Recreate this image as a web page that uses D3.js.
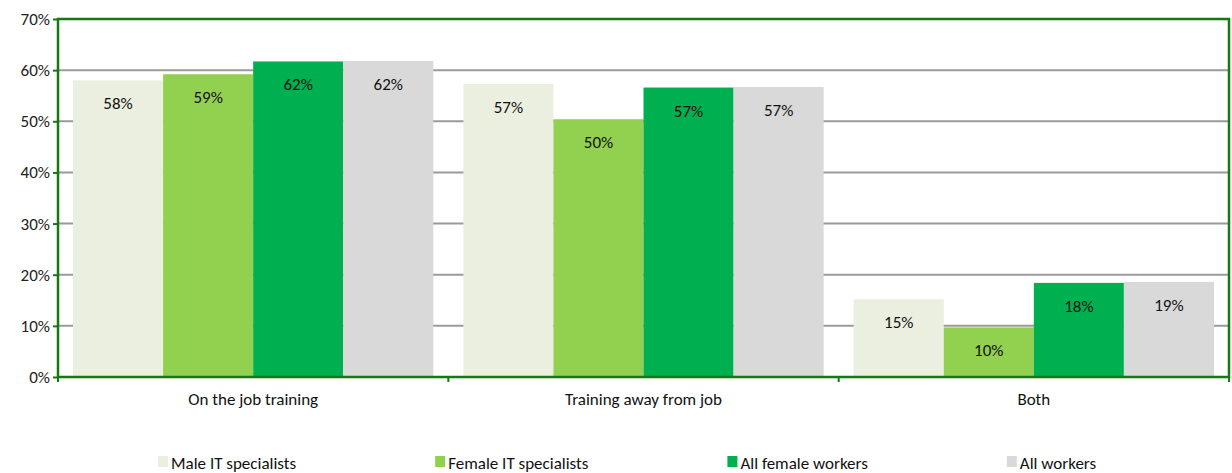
<!DOCTYPE html>
<html>
<head>
<meta charset="utf-8">
<script src="https://cdn.jsdelivr.net/npm/d3@7"></script>
<style>
  body { margin: 0; background: #fff; }
  svg { display: block; font-family: Carlito, "Liberation Sans", "Open Sans", sans-serif; }
</style>
</head>
<body>
<div id="chart"></div>
<script>
const categories = ["On the job training", "Training away from job", "Both"];
const seriesNames = ["Male IT specialists", "Female IT specialists", "All female workers", "All workers"];
const seriesColors = ["#ebefdf", "#92d050", "#00b050", "#d9d9d9"];
const maleIT = [0.58, 0.573, 0.152];
const femaleIT = [0.592, 0.504, 0.097];
const allFemale = [0.617, 0.566, 0.184];
const allWorkers = [0.618, 0.567, 0.186];
const yTicks = [0, 0.1, 0.2, 0.3, 0.4, 0.5, 0.6, 0.7];

const seriesValues = [maleIT, femaleIT, allFemale, allWorkers];

const width = 1232, height = 473;
const margin = { top: 19, right: 3, bottom: 96, left: 58 };
const innerW = width - margin.left - margin.right;
const innerH = height - margin.top - margin.bottom;
const frameColor = "#137a13";
const fontFam = 'Carlito, "Liberation Sans", sans-serif';

const svg = d3.select("#chart").append("svg")
  .attr("width", width)
  .attr("height", height);

const g = svg.append("g").attr("transform", `translate(${margin.left},${margin.top})`);

const x0 = d3.scaleBand().domain(categories).range([0, innerW]).paddingInner(0).paddingOuter(0);
const x1 = d3.scaleBand().domain(seriesNames)
  .range([x0.bandwidth() * 0.0385, x0.bandwidth() * 0.9615]).padding(0);
const y = d3.scaleLinear().domain([0, 0.7]).range([innerH, 0]);

// gridlines
g.append("g")
  .selectAll("line")
  .data(yTicks.filter(t => t > 0 && t < 0.7))
  .join("line")
  .attr("x1", 0).attr("x2", innerW)
  .attr("y1", d => y(d)).attr("y2", d => y(d))
  .attr("stroke", "#9a9a9a").attr("stroke-width", 2);

// bars
const groups = g.append("g")
  .selectAll("g")
  .data(seriesNames)
  .join("g")
  .attr("fill", (d, i) => seriesColors[i]);

groups.selectAll("rect")
  .data((s, si) => categories.map((c, ci) => ({ s, c, v: seriesValues[si][ci] })))
  .join("rect")
  .attr("x", d => x0(d.c) + x1(d.s))
  .attr("width", x1.bandwidth())
  .attr("y", d => y(d.v))
  .attr("height", d => innerH - y(d.v));

groups.selectAll("text")
  .data((s, si) => categories.map((c, ci) => ({ s, c, v: seriesValues[si][ci] })))
  .join("text")
  .attr("x", d => x0(d.c) + x1(d.s) + x1.bandwidth() / 2)
  .attr("y", d => y(d.v) + 29)
  .attr("text-anchor", "middle")
  .attr("fill", "#111")
  .style("font-size", "17px")
  .text(d => d3.format(".0%")(d.v));

// y axis
const yAxis = g.append("g")
  .call(d3.axisLeft(y).tickValues(yTicks).tickFormat(d3.format(".0%")).tickSize(5).tickPadding(3));
yAxis.select(".domain").remove();
yAxis.selectAll(".tick line").attr("stroke", frameColor).attr("stroke-width", 2);
yAxis.selectAll(".tick text").style("font-size", "17px").attr("fill", "#222")
  .attr("font-family", fontFam);

// x axis
const xAxis = g.append("g")
  .attr("transform", `translate(0,${innerH})`)
  .call(d3.axisBottom(x0).tickSize(0).tickPadding(16));
xAxis.select(".domain").remove();
xAxis.selectAll(".tick text").style("font-size", "17px").attr("fill", "#111")
  .attr("font-family", fontFam);

// category boundary ticks
g.append("g")
  .selectAll("line")
  .data(categories.map(c => x0(c)).concat([innerW]))
  .join("line")
  .attr("x1", d => d).attr("x2", d => d)
  .attr("y1", innerH).attr("y2", innerH + 5)
  .attr("stroke", frameColor).attr("stroke-width", 2);

// frame
g.append("rect")
  .attr("x", 0).attr("y", 0)
  .attr("width", innerW).attr("height", innerH)
  .attr("fill", "none")
  .attr("stroke", frameColor).attr("stroke-width", 2.5);

// legend: items laid out by text width, like excel does
const legend = svg.append("g")
  .attr("transform", `translate(158,${height - 4})`)
  .selectAll("g")
  .data(seriesNames)
  .join("g");

legend.append("rect")
  .attr("x", 0).attr("y", -13)
  .attr("width", 10).attr("height", 11)
  .attr("fill", (d, i) => seriesColors[i]);

legend.append("text")
  .attr("x", 13).attr("y", 0)
  .attr("fill", "#111")
  .style("font-size", "17px")
  .text(d => d);

let offset = 0;
legend.each(function () {
  d3.select(this).attr("transform", `translate(${offset},0)`);
  offset += d3.select(this).select("text").node().getComputedTextLength() + 152;
});
</script>
</body>
</html>
